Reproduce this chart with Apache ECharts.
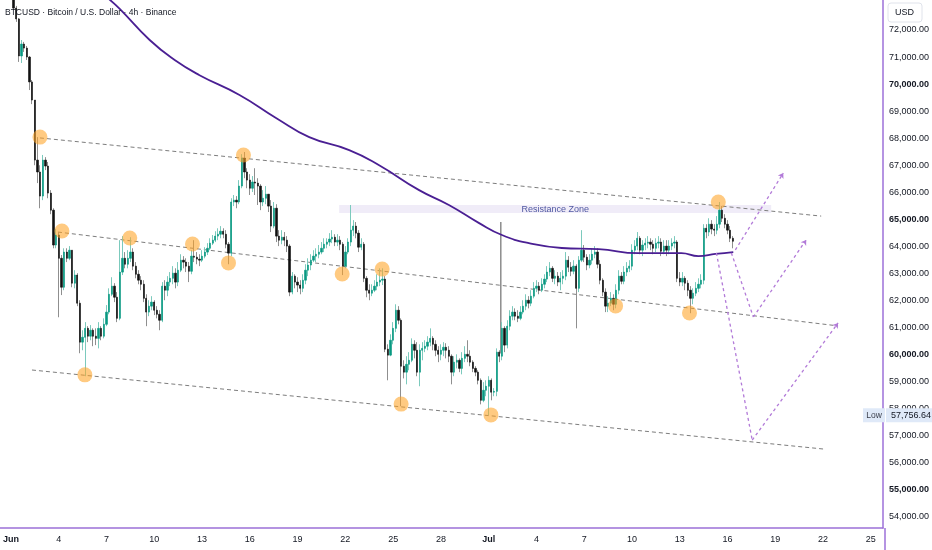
<!DOCTYPE html>
<html><head><meta charset="utf-8">
<script src="https://cdn.jsdelivr.net/npm/echarts@6/dist/echarts.min.js"></script>
<style>html,body{margin:0;padding:0;background:#fff}#c{width:932px;height:550px}</style>
</head><body><div id="c"></div>
<script>
// ---- data (BTCUSD 4h, day 0 = Jun 1) ----
const titleText = 'BTCUSD · Bitcoin / U.S. Dollar · 4h · Binance';
const barDays = 4 / 24;
const firstOpen = 73480;
const closes = [
72810,72410,71040,71480,71330,71000,70080,69410,67190,66750,
65860,67190,66970,65970,65340,64050,64420,63560,62490,63790,
63560,63860,62640,62940,61900,60460,60640,60970,60680,60900,
60680,60600,60970,60680,61120,61570,62230,62530,62120,61340,
63050,63560,63340,63560,63790,63270,62970,62750,62600,62080,
61570,61790,61940,61640,61490,61270,62530,62380,62680,62820,
63010,62680,63120,63490,63420,63270,63080,63640,63600,63530,
63490,63640,63790,63930,64120,64230,64380,64450,64560,64450,
64080,63750,65640,65710,65640,66230,67260,66750,66450,66150,
66380,66340,66230,65640,65780,65930,65490,64750,65410,64380,
64230,64340,64230,64010,62310,62900,62680,62570,62450,62750,
63120,63310,63490,63640,63710,63790,63930,64080,64160,64270,
64340,64160,64230,64080,63270,63790,64160,64600,64750,64490,
63970,64080,62820,62380,62270,62380,62530,62680,62750,62790,
60200,59980,60530,60970,61640,61270,59570,59350,59640,59790,
60380,60160,59350,60160,60230,60310,60460,60600,60380,60160,
60010,60160,60270,60160,59940,59350,59720,59790,59490,59860,
60010,59940,59720,59490,59350,59050,58310,58680,58830,59050,
58610,58640,60090,59940,60970,60350,61050,61420,61570,61420,
61340,61570,61790,62010,61900,62160,62450,62530,62380,62600,
62790,63050,63190,62820,62900,62680,62820,62900,63490,63230,
63080,63270,62450,63490,63860,63600,63310,63490,63710,63790,
63340,62750,62310,61790,61900,62080,61860,62380,62900,62710,
63050,63190,63270,63860,64010,64300,63860,64050,64120,64160,
64080,63930,64120,64160,63820,64010,63860,64010,64120,64160,
62820,62680,62820,62640,62380,62080,62270,62450,62600,62750,
64670,64530,64820,64640,64600,64820,65340,65040,64820,64600,
64300,64190];
const highs = [
73550,72890,72440,71630,71560,71410,71040,70150,69410,68040,
67000,67380,67300,67120,66080,65410,64640,64530,63680,63930,
63930,64010,63860,63120,63010,62010,60900,61200,61050,61090,
60970,60970,61200,61050,61340,61830,62450,62860,62640,62310,
64230,64380,63790,63860,64340,63930,63420,63120,62900,62750,
62230,62010,62160,62010,61790,61640,62680,62750,62900,63050,
63270,63190,63420,63710,63640,63560,63420,63860,64230,63790,
63710,63860,63970,64120,64300,64420,64560,64670,64750,64670,
64600,64160,65780,65900,65860,66450,67410,67490,66890,66670,
66600,66890,66520,66300,66080,66230,65930,65710,65640,65560,
64600,64600,64530,64380,64080,63050,62970,62860,62750,62970,
63340,63560,63710,63860,63930,64050,64160,64300,64300,64490,
64600,64450,64450,64380,64160,64010,64300,65530,64970,64900,
64600,64300,64160,62900,62600,62600,62750,62970,63190,63190,
62900,60380,60750,61200,61860,61790,61340,59790,59940,60090,
60600,60530,60460,60380,60460,60530,60680,60970,60680,60530,
60310,60380,60460,60420,60310,60010,59940,60010,59860,60090,
60310,60530,60160,59790,59570,59420,59120,58980,59050,59200,
59120,58760,60230,60160,61200,61050,61270,61640,61790,61710,
61640,61790,62010,62230,62160,62380,62680,62750,62680,62820,
62970,63270,63420,63270,63120,63050,63050,63120,63790,63640,
63420,63490,63340,63640,64600,64050,63710,63710,63930,64010,
63930,63490,62820,62450,62160,62310,62230,62600,63120,63050,
63270,63420,63490,64080,64230,64530,64380,64230,64300,64380,
64300,64230,64300,64380,64300,64230,64230,64230,64300,64380,
64230,63050,63050,62900,62750,62530,62450,62680,62820,62970,
64820,64820,65040,64970,64820,65120,65640,65490,65190,64970,
64750,64380];
const lows = [
72740,72300,70820,70780,71190,70890,69780,69260,67000,66340,
65410,65710,66820,65780,65190,63930,63930,61380,62200,62380,
63420,63490,62490,62450,61790,60050,60160,59200,60460,60530,
60310,60350,60230,60530,60600,61050,61490,62160,61940,61200,
61270,62940,63190,63190,63420,63120,62820,62600,62380,61940,
61050,61420,61640,61460,61340,60900,61200,62010,62160,62530,
62600,62450,62530,63050,63190,63050,62680,62970,63420,63340,
63270,63420,63560,63680,63860,64050,64160,64230,64300,64300,
63930,63340,63640,65490,65410,65560,66150,66520,66150,65900,
66010,65900,65530,65340,65490,65560,65270,64530,64670,64160,
64010,64080,64010,63790,62160,62230,62450,62310,62230,62310,
62600,62900,63120,63420,63420,63560,63710,63790,63930,64010,
64120,64010,64010,63860,62940,63190,63710,64010,64380,64300,
63790,63860,62680,62120,62010,62160,62310,62380,62530,62570,
60090,59050,59940,60380,60830,61120,58090,59120,58900,59420,
59720,59860,59200,58830,59790,60090,60160,60310,60160,59940,
59720,59790,59940,59860,59720,58900,59200,59490,59350,59270,
59720,59720,59570,59350,59200,58900,58160,58240,58460,57756.64,
58310,58460,58460,59720,59790,60090,60230,60900,61270,61270,
61200,61270,61490,61640,61710,61790,62080,62310,62230,62310,
62450,62680,62900,62680,62600,62530,62380,62600,62750,63050,
62900,62970,60970,62310,63420,63420,63120,63190,63340,63560,
63190,62600,62160,61570,61570,61790,61640,61710,62230,62600,
62600,62900,63050,63120,63710,63860,63710,63640,63860,63930,
63860,63710,63790,63930,63640,63710,63640,63710,63860,63930,
62680,62530,62530,62380,62160,61530,61860,62160,62310,62450,
62600,64300,64380,64450,64380,64450,64670,64900,64670,64450,
64160,63930];

// moving average
const maDays   = [6.08, 6.83, 8.71, 10.28, 11.84, 14.35, 16.67, 18.73, 21.24, 23.12, 25.63, 27.5, 29.4, 30.83, 32.52, 34.59, 36.9, 39.41, 42.1, 43.17, 44.24, 45.36];
const maValues = [73180, 72780, 71630, 70890, 70330, 69600, 68740, 68040, 67560, 67000, 66080, 65530, 64860, 64420, 64120, 63940, 63900, 63750, 63750, 63640, 63720, 63790];

// channel lines
const upperLineDays = [1.82, 50.88];   const upperLinePrices = [68010, 65120];
const midLineDays   = [2.95, 51.94];   const midLinePrices   = [64530, 61060];
const lowerLineDays = [1.32, 51.0];    const lowerLinePrices = [59430, 56510];

// resistance zone
const zoneDays = [20.61, 47.74];
const zonePrices = [65530, 65230];

// orange touch points
const touchDays   = [1.82, 3.20, 4.64, 7.46, 11.40, 13.66, 14.60, 20.80, 23.31, 24.50, 30.14, 37.97, 42.61, 44.42];
const touchPrices = [68040, 64570, 59250, 64310, 64090, 63390, 67380, 62980, 63160, 58170, 57770, 61800, 61540, 65640];

// vertical marker line
const vLineDay = 30.76; const vLinePrices = [64900, 60040];

// projected paths
const projFromDays   = [45.49, 45.24, 46.62, 44.30, 46.55];
const projFromPrices = [63870, 63760, 61390, 63760, 56840];
const projToDays     = [48.50, 46.62, 49.94, 46.55, 51.94];
const projToPrices   = [66710, 61390, 64240, 56840, 61170];
const projArrow      = [true, false, true, false, true];

// axes
const xTickDays   = [0,3,6,9,12,15,18,21,24,27,30,33,36,39,42,45,48,51,54];
const xTickLabels = ['Jun','4','7','10','13','16','19','22','25','28','Jul','4','7','10','13','16','19','22','25'];
const monthLabels = ['Jun','Jul'];
const yTicks = [54000,55000,56000,57000,58000,59000,60000,61000,62000,63000,64000,65000,66000,67000,68000,69000,70000,71000,72000];
const boldY  = [55000,60000,65000,70000];
const xMin = -0.689, xMax = 54.76;
const yMin = 53589, yMax = 73109;

// ---- build ----
const FONT = 'Liberation Sans, Arial, sans-serif';
const wickData = [], bodyData = [];
for (let k = 0; k < closes.length; k++) {
  const d = (k + 1) * barDays;
  const o = k === 0 ? firstOpen : closes[k - 1];
  const c = closes[k];
  wickData.push([d, o, c, lows[k], highs[k]]);
  bodyData.push([d, o, c, Math.min(o, c), Math.max(o, c)]);
}
const lowValue = Math.min.apply(null, lows);
const fmt = v => v.toLocaleString('en-US', {minimumFractionDigits: 2, maximumFractionDigits: 2});

const dashed = (days, prices) => ({
  type: 'line', data: days.map((d, i) => [d, prices[i]]), showSymbol: false, silent: true, z: 1,
  lineStyle: {color: '#7d7d7d', width: 1, type: [4, 3]}
});

const projLines = projFromDays.map((d, i) => [
  {coord: [d, projFromPrices[i]], symbol: 'none'},
  {coord: [projToDays[i], projToPrices[i]], symbol: projArrow[i] ? 'arrow' : 'none', symbolSize: 5}
]);

const upperSeries = dashed(upperLineDays, upperLinePrices);
upperSeries.markArea = {
  silent: true,
  itemStyle: {color: 'rgba(149,117,205,0.14)'},
  label: {show: true, position: 'inside', formatter: 'Resistance Zone', color: '#4f57a1', fontSize: 9, fontFamily: FONT},
  data: [[{coord: [zoneDays[0], zonePrices[0]]}, {coord: [zoneDays[1], zonePrices[1]]}]]
};

const chart = echarts.init(document.getElementById('c'));
chart.setOption({
  animation: false,
  backgroundColor: '#ffffff',
  textStyle: {fontFamily: FONT},
  title: {text: titleText, left: 5, top: 8, padding: 0,
    textStyle: {fontSize: 8.5, fontWeight: 'normal', color: '#131722', fontFamily: FONT}},
  grid: {left: 0, right: 47, top: 0, bottom: 22},
  xAxis: {
    type: 'value', min: xMin, max: xMax,
    splitLine: {show: false}, axisTick: {show: false},
    axisLine: {show: true, onZero: false, lineStyle: {color: '#9c70d8', width: 1.5}},
    axisLabel: {
      customValues: xTickDays, margin: 7, fontSize: 9, color: '#131722', fontFamily: FONT,
      formatter: v => {
        const s = xTickLabels[xTickDays.indexOf(v)];
        return monthLabels.indexOf(s) >= 0 ? '{b|' + s + '}' : s;
      },
      rich: {b: {fontWeight: 'bold', fontSize: 9, color: '#131722', fontFamily: FONT}}
    }
  },
  yAxis: {
    type: 'value', position: 'right', min: yMin, max: yMax,
    splitLine: {show: false}, axisTick: {show: false},
    axisLine: {show: true, onZero: false, lineStyle: {color: '#9c70d8', width: 1.5}},
    axisLabel: {
      customValues: yTicks, margin: 6, fontSize: 9, color: '#131722', fontFamily: FONT,
      formatter: v => boldY.indexOf(v) >= 0 ? '{b|' + fmt(v) + '}' : fmt(v),
      rich: {b: {fontWeight: 'bold', fontSize: 9, color: '#131722', fontFamily: FONT}}
    }
  },
  series: [
    upperSeries,
    dashed(midLineDays, midLinePrices),
    dashed(lowerLineDays, lowerLinePrices),
    {
      type: 'line', data: vLinePrices.map(p => [vLineDay, p]), showSymbol: false, silent: true, z: 1,
      lineStyle: {color: '#8c8c8c', width: 1.5},
      markLine: {silent: true, symbol: ['none', 'none'], label: {show: false},
        lineStyle: {color: '#b27ad8', width: 1.3, type: [3, 3]},
        data: projLines}
    },
    {
      type: 'candlestick', data: wickData, barWidth: 0.01, encode: {x: 0, y: [1, 2, 3, 4]}, z: 2,
      itemStyle: {color: '#7ccabd', color0: '#8f8f8f', borderColor: '#7ccabd', borderColor0: '#8f8f8f', borderWidth: 1}
    },
    {
      type: 'candlestick', data: bodyData, barWidth: 1.8, encode: {x: 0, y: [1, 2, 3, 4]}, z: 3,
      itemStyle: {color: '#089981', color0: '#111111', borderColor: '#089981', borderColor0: '#111111', borderWidth: 0.6}
    },
    {
      type: 'line', data: maDays.map((d, i) => [d, maValues[i]]), smooth: true, showSymbol: false, silent: true, z: 4,
      lineStyle: {color: '#4a1f93', width: 1.8}
    },
    {
      type: 'scatter', data: touchDays.map((d, i) => [d, touchPrices[i]]), symbolSize: 15, silent: true, z: 5,
      itemStyle: {color: 'rgba(255,163,36,0.72)'}
    }
  ]
});

const py = chart.convertToPixel({yAxisIndex: 0}, lowValue);
chart.setOption({
  graphic: [
    {type: 'line', z: 10, shape: {x1: 885, y1: 528, x2: 885, y2: 550}, style: {stroke: '#9c70d8', lineWidth: 1.5}},
    {type: 'rect', z: 10, shape: {x: 888, y: 3, width: 34, height: 19, r: 3}, style: {fill: '#ffffff', stroke: '#e0e3eb', lineWidth: 1}},
    {type: 'text', z: 11, x: 895, y: 12.5, style: {text: 'USD', fontSize: 9, fill: '#131722', fontFamily: FONT, verticalAlign: 'middle'}},
    {type: 'rect', z: 10, shape: {x: 863, y: py - 7, width: 22, height: 14}, style: {fill: '#dfe9f8'}},
    {type: 'text', z: 11, x: 874, y: py, style: {text: 'Low', fontSize: 8.5, fill: '#3a3e4a', fontFamily: FONT, align: 'center', verticalAlign: 'middle'}},
    {type: 'rect', z: 10, shape: {x: 886, y: py - 7, width: 46, height: 14}, style: {fill: '#dfe9f8'}},
    {type: 'text', z: 11, x: 891, y: py, style: {text: fmt(lowValue), fontSize: 9, fill: '#131722', fontFamily: FONT, verticalAlign: 'middle'}}
  ]
});
</script>
</body></html>
